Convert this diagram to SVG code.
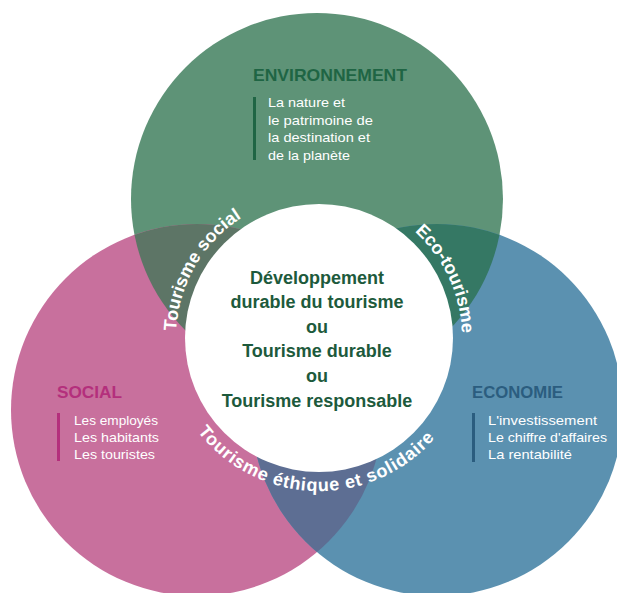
<svg xmlns="http://www.w3.org/2000/svg" width="617" height="593" viewBox="0 0 617 593">
<style>
.ttl{font-family:"Liberation Sans",Arial,sans-serif;font-weight:bold;font-size:17px}
.body{font-family:"Liberation Sans",Arial,sans-serif;font-size:13.5px;fill:#ffffff}
.ctr{font-family:"Liberation Sans",Arial,sans-serif;font-weight:bold;font-size:18px;fill:#1d5a3c;text-anchor:middle}
.arc{font-family:"Liberation Sans",Arial,sans-serif;font-weight:bold;font-size:18px;fill:#ffffff;text-anchor:middle}
</style>
<defs>
<clipPath id="cg"><circle cx="317" cy="199" r="186"/></clipPath>
<clipPath id="cp"><circle cx="197" cy="410" r="186"/></clipPath>
<path id="pSoc" d="M178.2,362.8 A143,143 0 0 1 270.1,203.6"/>
<path id="pEco" d="M367.9,203.6 A143,143 0 0 1 453.4,386.9"/>
<path id="pEth" d="M168.3,364.6 A153,153 0 0 0 468.1,372.4"/>
</defs>
<rect width="617" height="593" fill="#ffffff"/>
<g id="environnement">
<circle cx="317" cy="199" r="186" fill="#5e9377"/>
</g>
<g id="social">
<circle cx="197" cy="410" r="186" fill="#c8709d"/>
</g>
<g id="economie">
<circle cx="437" cy="410" r="186" fill="#5b91b0"/>
</g>
<g id="overlaps">
<circle cx="197" cy="410" r="186" fill="#5d7566" clip-path="url(#cg)"/>
<circle cx="437" cy="410" r="186" fill="#357864" clip-path="url(#cg)"/>
<circle cx="437" cy="410" r="186" fill="#5d6e93" clip-path="url(#cp)"/>
</g>
<g id="centre">
<circle cx="319" cy="338" r="134" fill="#ffffff"/>
<text class="ctr" x="317" y="284">Développement</text>
<text class="ctr" x="317" y="308">durable du tourisme</text>
<text class="ctr" x="317" y="333">ou</text>
<text class="ctr" x="317" y="357">Tourisme durable</text>
<text class="ctr" x="317" y="382">ou</text>
<text class="ctr" x="317" y="407">Tourisme responsable</text>
</g>
<g id="environnement-text">
<text class="ttl" x="253" y="81" fill="#1f6544" textLength="154" lengthAdjust="spacingAndGlyphs">ENVIRONNEMENT</text>
<rect x="253" y="97" width="3" height="63" fill="#1f6544"/>
<text class="body" x="268" y="106.5" textLength="77" lengthAdjust="spacingAndGlyphs">La nature et</text>
<text class="body" x="268" y="124.5" textLength="105" lengthAdjust="spacingAndGlyphs">le patrimoine de</text>
<text class="body" x="268" y="142" textLength="102" lengthAdjust="spacingAndGlyphs">la destination et</text>
<text class="body" x="268" y="160" textLength="82" lengthAdjust="spacingAndGlyphs">de la planète</text>
</g>
<g id="social-text">
<text class="ttl" x="57" y="398" fill="#b42f7c" textLength="65" lengthAdjust="spacingAndGlyphs">SOCIAL</text>
<rect x="57" y="413" width="3" height="48" fill="#b42f7c"/>
<text class="body" x="74" y="425" textLength="84" lengthAdjust="spacingAndGlyphs">Les employés</text>
<text class="body" x="74" y="442" textLength="85" lengthAdjust="spacingAndGlyphs">Les habitants</text>
<text class="body" x="74" y="459" textLength="81" lengthAdjust="spacingAndGlyphs">Les touristes</text>
</g>
<g id="economie-text">
<text class="ttl" x="472" y="398" fill="#2b5d7f" textLength="91" lengthAdjust="spacingAndGlyphs">ECONOMIE</text>
<rect x="472" y="413" width="3" height="49" fill="#2b5d7f"/>
<text class="body" x="488" y="425" textLength="109" lengthAdjust="spacingAndGlyphs">L'investissement</text>
<text class="body" x="488" y="442" textLength="119" lengthAdjust="spacingAndGlyphs">Le chiffre d'affaires</text>
<text class="body" x="488" y="459" textLength="84" lengthAdjust="spacingAndGlyphs">La rentabilité</text>
</g>
<g id="connectors">
<text class="arc"><textPath href="#pSoc" startOffset="50%">Tourisme social</textPath></text>
<text class="arc"><textPath href="#pEco" startOffset="50%">Eco-tourisme</textPath></text>
<text class="arc" letter-spacing="0.8"><textPath href="#pEth" startOffset="50%">Tourisme éthique et solidaire</textPath></text>
</g>
</svg>
